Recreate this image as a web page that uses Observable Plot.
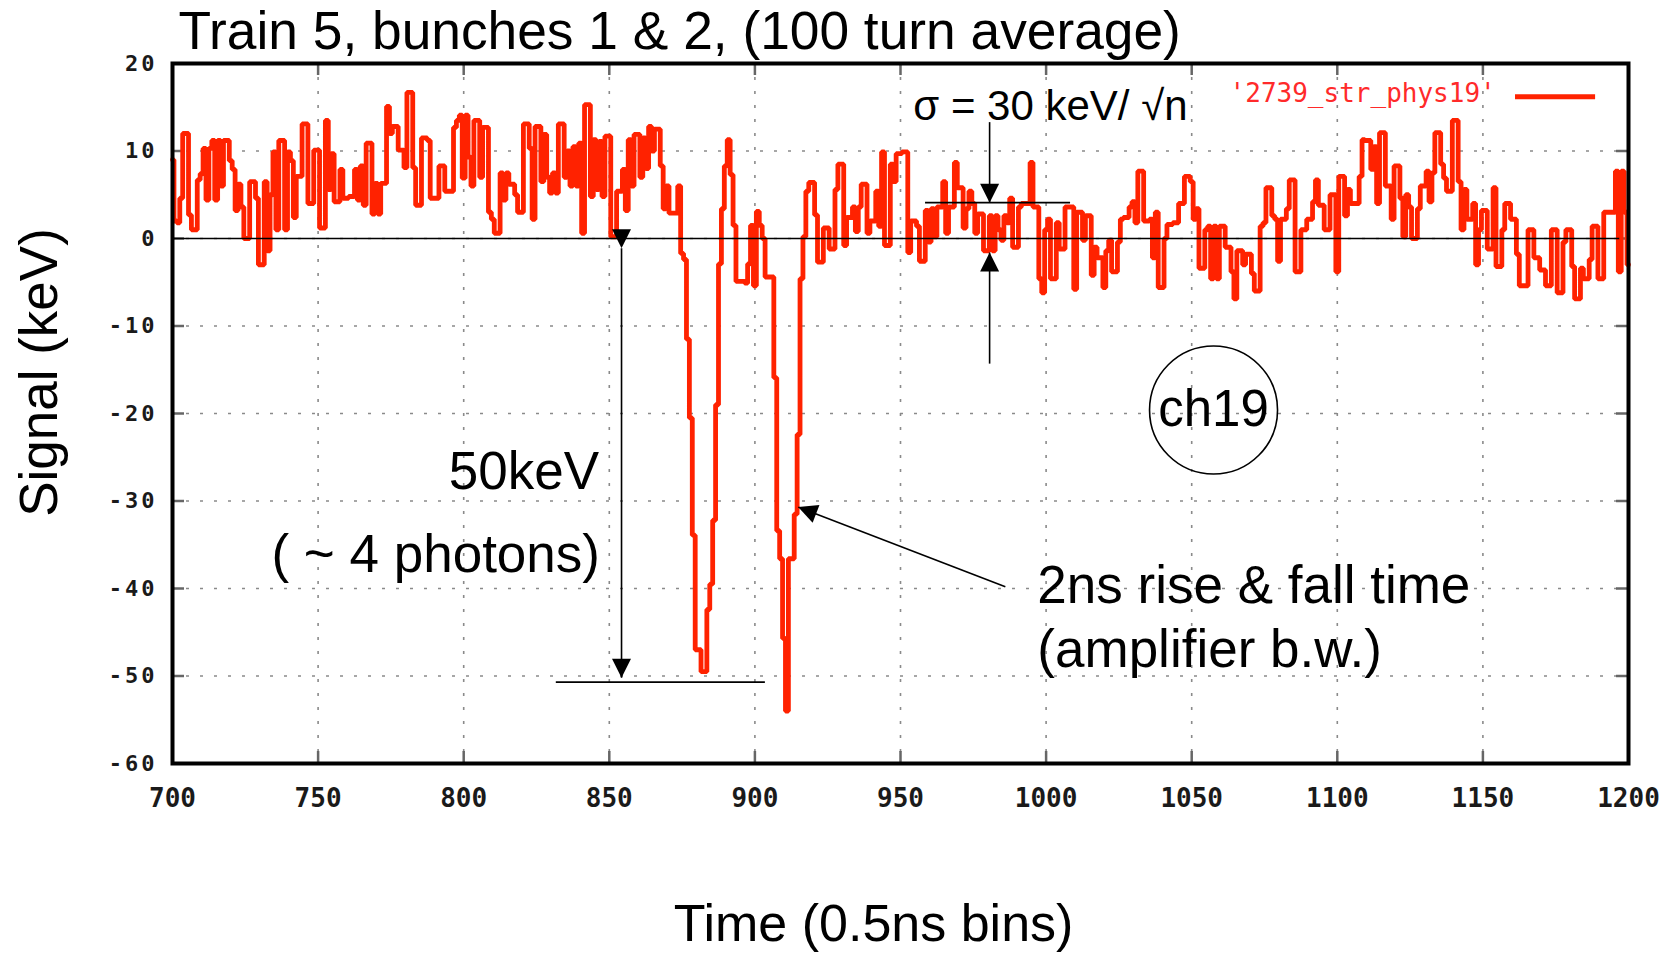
<!DOCTYPE html>
<html><head><meta charset="utf-8">
<script src="https://cdn.jsdelivr.net/npm/d3@7"></script>
<script src="https://cdn.jsdelivr.net/npm/@observablehq/plot@0.6"></script>
<style>
html,body{margin:0;padding:0;background:#fff;}
#chart svg{display:block;}
</style>
</head><body><div id="chart"></div>
<script>
// ---- data ----
const binStart = 700;
const signal = [
 9, 2, 1.8, 4.6, 12, 12, 2.7, 1.0, 1.0, 6.7,
 7.4, 10.3, 4.4, 10.3, 11.2, 4.4, 11.2, 6, 11.2, 11.2,
 8.9, 7.9, 3.2, 6.2, 3.6, 0, 0, 6.5, 6.5, 4.6,
 -3, -3, 6.5, -1.4, 5.0, 9.9, 1.0, 11.2, 11.2, 1.0,
 9.9, 8.9, 2.4, 7.1, 7.1, 13.1, 13.1, 4.0, 4.0, 10.1,
 10.1, 1.2, 1.2, 13.5, 5.6, 9.7, 4.2, 4.2, 7.9, 4.6,
 4.6, 4.8, 4.8, 7.9, 4.4, 8.3, 3.8, 10.9, 10.9, 2.8,
 6.3, 2.8, 6.3, 6.3, 15.1, 12, 12.8, 12.8, 10.1, 10.1,
 8.1, 16.7, 16.7, 8.1, 3.8, 3.8, 11.5, 11.5, 11.2, 4.6,
 4.6, 4.6, 8.3, 8.3, 5.4, 5.4, 5.4, 12.7, 13.5, 14.1,
 6.9, 14.1, 9.3, 6.0, 13.5, 13.5, 7.0, 12.7, 12.7, 3.0,
 2.2, 0.6, 0.6, 7.5, 4.4, 7.5, 6.2, 6.2, 5.0, 3.0,
 3.0, 13.1, 13.1, 10.3, 2.2, 12.8, 12.8, 6.5, 11.9, 7.0,
 5.2, 7.5, 5.2, 13.1, 13.1, 7.0, 10.0, 6.0, 10.5, 6.0,
 10.9, 0.6, 15.3, 15.3, 4.8, 11.3, 5.6, 11.1, 4.8, 11.7,
 11.7, 0.2, 0.2, 5.4, 5.4, 7.9, 3.2, 11.3, 6.0, 11.9,
 11.9, 7.0, 11.5, 8.0, 12.8, 10.0, 12.5, 12.5, 8.3, 3.4,
 6.0, 2.9, 2.9, 2.9, 6.0, -1.7, -2.4, -11.5, -20.5, -33.9,
 -47, -47, -49.5, -49.5, -42.4, -39.5, -32.2, -19, -2.9, 3.4,
 8.3, 11.3, 7.3, 1.5, -4.9, -4.9, -4.9, -5.1, -2.9, 1.5,
 -5.4, 3.1, 1.5, 0, -4.4, -4.4, -4.4, -15.9, -33.4, -36.6,
 -45.7, -54, -36.6, -36.6, -31.5, -22.4, -4.6, 0.2, 5.4, 6.4,
 6.4, 2.7, -2.7, -2.7, 1.2, 1.2, -1.2, -1.2, 5.6, 8.5,
 8.5, -0.8, 2.4, 2.4, 3.6, 0.8, 3.6, 6.2, 6.2, 0.6,
 2.0, 2.0, 5.4, 1.4, 9.9, -0.8, -0.8, 8.5, 6.5, 9.7,
 9.7, 9.9, 9.9, -1.6, 2.0, 2.0, 1.4, -2.6, -2.6, 3.2,
 -0.4, 3.4, 0.2, 3.6, 3.6, 6.5, 0.6, 3.6, 3.6, 8.7,
 5.8, 5.8, 1.2, 3.4, 5.4, 4.0, 0.6, 2.8, 2.8, -1.4,
 -1.4, 2.6, -1.4, 2.6, 1.0, -0.2, 2.6, 1.8, 4.6, -1.0,
 -1.0, 3.6, 4.0, 4.0, 4.0, 8.7, 3.6, 3.6, -4.6, -6.2,
 1.0, 2.2, -4.6, -4.6, 1.8, -1.2, -1.2, 3.6, 3.6, 3.6,
 -5.8, 3.0, 3.0, -0.2, 2.6, 2.6, -4.2, -1.0, -2.2, -2.2,
 -5.6, -1.4, -0.2, -3.8, -3.8, -0.4, 2.2, 2.4, 2.4, 3.6,
 4.2, 1.8, 7.7, 7.7, 2.0, 2.0, 2.2, -2.2, 3.0, -5.6,
 -5.6, 0, 1.6, 1.6, 1.8, 1.8, 4.0, 4.0, 7.1, 7.1,
 6.5, 2.2, 3.4, -3.4, -3.4, 1.0, 1.4, -4.6, 1.4, -4.6,
 1.4, 1.4, -1.0, -1.0, -3.8, -6.9, -1.4, -1.4, -3.0, -1.8,
 -1.8, -4.0, -6.0, -6.0, 1.4, 1.8, 5.8, 5.8, 2.6, 2.2,
 -2.6, 2.2, 2.2, 3.4, 6.7, 6.7, -3.8, -3.8, 1.0, 1.0,
 2.2, 2.2, 4.2, 6.7, 3.8, 3.8, 1.0, 1.0, 5.0, 5.0,
 -3.8, 7.1, 7.1, 2.6, 5.6, 4.0, 4.0, 4.0, 7.1, 11.3,
 11.2, 11.2, 7.9, 10.5, 4.0, 12.1, 12.1, 6.0, 6.0, 2.2,
 8.3, 8.3, 4.6, 0.2, 5.0, 3.6, 0, 0, 3.4, 6.0,
 6.0, 7.7, 4.2, 7.5, 12.1, 12.1, 8.5, 6.9, 5.4, 5.4,
 13.5, 13.5, 6.5, 1.0, 5.6, 2.2, 2.2, 4.0, -3.0, 1.0,
 3.2, 3.2, -1.2, -1.2, 5.8, -3.2, -3.2, 1.0, 4.0, 4.0,
 2.2, 2.2, -1.8, -5.4, -5.4, -5.4, 1.0, 1.0, -2.2, -2.2,
 -3.6, -3.6, -5.4, -5.4, 1.0, 1.0, -6.2, -6.2, -0.4, 1.0,
 1.0, -3.2, -6.9, -6.9, -3.4, -4.6, -4.6, -2.4, 1.4, 1.4,
 -4.6, -4.6, 3.0, 3.0, 3.0, 3.0, 7.7, -3.8, 7.7, 3.0,
 -3.0
];
const xTicks = [700, 750, 800, 850, 900, 950, 1000, 1050, 1100, 1150, 1200];
const yTicks = [-60, -50, -40, -30, -20, -10, 0, 10, 20];
const xDomain = [700, 1200];
const yDomain = [-60, 20];
const title = "Train 5, bunches 1 & 2, (100 turn average)";
const xLabel = "Time (0.5ns bins)";
const yLabel = "Signal (keV)";
const legendLabel = "'2739_str_phys19'";

// ---- annotations (data coordinates) ----
const notesRight = [
  {x: 846.5, y: -26.7, text: "50keV"},
  {x: 846.8, y: -36.2, text: "( ~ 4 photons)"}
];
const notesLeft = [
  {x: 997, y: -39.7, text: "2ns rise & fall time"},
  {x: 997, y: -47.0, text: "(amplifier b.w.)"}
];
const sigmaNote = [{x: 954.4, y: 15.1, text: "σ = 30 keV/ √n"}];
const circleNote = [{x: 1057.5, y: -19.6, text: "ch19"}];
const plainLines = [
  {x1: 958.6, x2: 1008.4, y: 4.1},
  {x1: 831.8, x2: 903.6, y: -50.7}
];
const zeroLine = [{x1: 700, x2: 1197, y: 0}];
const singleArrows = [
  {x1: 980.6, y1: 13.3, x2: 980.6, y2: 4.1},
  {x1: 980.6, y1: -14.3, x2: 980.6, y2: -1.6},
  {x1: 986, y1: -39.8, x2: 914.9, y2: -30.7}
];
const doubleArrows = [{x1: 854.2, y1: -1.1, x2: 854.2, y2: -50.2}];
const legendText = [{x: 1154.4, y: 16.5, text: legendLabel}];
const legendLine = [{x1: 1161.2, x2: 1188.7, y: 16.2}];

const rows = signal.map((v, i) => ({bin: binStart + i, keV: v}));
const innerX = xTicks.slice(1, -1);
const innerY = yTicks.slice(1, -1);

const sans = "Liberation Sans, Arial, Helvetica, sans-serif";
const mono = "DejaVu Sans Mono, monospace";
const red = "#ff2200";

const chart = Plot.plot({
  width: 1668, height: 958,
  marginLeft: 172, marginRight: 40, marginTop: 63, marginBottom: 195,
  x: {domain: xDomain},
  y: {domain: yDomain},
  style: {background: "white", fontFamily: sans, overflow: "visible"},
  marks: [
    Plot.gridX(innerX, {stroke: "#8a8a8a", strokeOpacity: 1, strokeWidth: 1.6, strokeDasharray: "3,11"}),
    Plot.gridY(innerY, {stroke: "#8a8a8a", strokeOpacity: 1, strokeWidth: 1.6, strokeDasharray: "3,11"}),
    Plot.tickX(innerX, {x: d => d, insetTop: 688, stroke: "#666", strokeWidth: 2.5}),
    Plot.tickX(innerX, {x: d => d, insetBottom: 688, stroke: "#666", strokeWidth: 2.5}),
    Plot.tickY(innerY, {y: d => d, insetRight: 1444, stroke: "#666", strokeWidth: 2.5}),
    Plot.tickY(innerY, {y: d => d, insetLeft: 1444, stroke: "#666", strokeWidth: 2.5}),
    Plot.line(rows, {x: "bin", y: "keV", curve: "step", stroke: red, strokeWidth: 4.8, strokeLinejoin: "miter"}),
    Plot.ruleY(zeroLine, {y: "y", x1: "x1", x2: "x2", stroke: "black", strokeWidth: 1.6}),
    Plot.frame({stroke: "black", strokeWidth: 4}),
    Plot.axisX(xTicks, {tickSize: 0, tickPadding: 25, fontSize: 26, fontFamily: mono, fontWeight: "bold", fill: "#1a1a1a", tickFormat: d => String(d), label: null}),
    Plot.axisY(yTicks, {tickSize: 0, tickPadding: 15, fontSize: 22, fontFamily: mono, fontWeight: "bold", fill: "#1a1a1a", tickFormat: d => String(d), label: null}),
    // titles
    Plot.text([title], {text: d => d, frameAnchor: "top-left", textAnchor: "start", lineAnchor: "middle", dx: 6, dy: -32, fontSize: 53.3, fill: "black"}),
    Plot.text([yLabel], {text: d => d, frameAnchor: "left", rotate: -90, textAnchor: "middle", lineAnchor: "middle", dx: -132, dy: -41, fontSize: 53, fill: "black"}),
    Plot.text([xLabel], {text: d => d, frameAnchor: "bottom", textAnchor: "middle", lineAnchor: "middle", dx: -27, dy: 161, fontSize: 52, fill: "black"}),
    // legend
    Plot.text(legendText, {x: "x", y: "y", text: "text", textAnchor: "end", lineAnchor: "middle", fontSize: 26, fontFamily: mono, fill: "#ff2a2a"}),
    Plot.ruleY(legendLine, {y: "y", x1: "x1", x2: "x2", stroke: red, strokeWidth: 5}),
    // annotations
    Plot.ruleY(plainLines, {y: "y", x1: "x1", x2: "x2", stroke: "black", strokeWidth: 1.6}),
    Plot.link(singleArrows, {x1: "x1", y1: "y1", x2: "x2", y2: "y2", stroke: "black", strokeWidth: 1.6, markerEnd: "arrow"}),
    Plot.link(doubleArrows, {x1: "x1", y1: "y1", x2: "x2", y2: "y2", stroke: "black", strokeWidth: 1.6, markerStart: "arrow", markerEnd: "arrow"}),
    Plot.text(notesRight, {x: "x", y: "y", text: "text", textAnchor: "end", lineAnchor: "middle", fontSize: 53, fill: "black"}),
    Plot.text(notesLeft, {x: "x", y: "y", text: "text", textAnchor: "start", lineAnchor: "middle", fontSize: 53, fill: "black"}),
    Plot.text(sigmaNote, {x: "x", y: "y", text: "text", textAnchor: "start", lineAnchor: "middle", fontSize: 42, fill: "black"}),
    Plot.dot(circleNote, {x: "x", y: "y", r: 64, stroke: "black", strokeWidth: 1.6, fill: "none"}),
    Plot.text(circleNote, {x: "x", y: "y", text: "text", textAnchor: "middle", lineAnchor: "middle", fontSize: 51, fill: "black"})
  ]
});

// filled triangular arrowheads
d3.select(chart).selectAll("marker").each(function () {
  const m = d3.select(this);
  m.attr("viewBox", "-20 -10 20 20").attr("markerWidth", 20).attr("markerHeight", 20)
   .attr("markerUnits", "userSpaceOnUse").attr("refX", 0).attr("refY", 0)
   .attr("fill", "black").attr("stroke", "none");
  m.selectAll("*").remove();
  m.append("path").attr("d", "M-19,-9.5L0,0L-19,9.5Z").attr("fill", "black").attr("stroke", "none");
});
d3.select(chart).selectAll('g[aria-label="y-axis tick label"] text').style("letter-spacing", "3px");

document.getElementById("chart").appendChild(chart);
</script>
</body></html>
